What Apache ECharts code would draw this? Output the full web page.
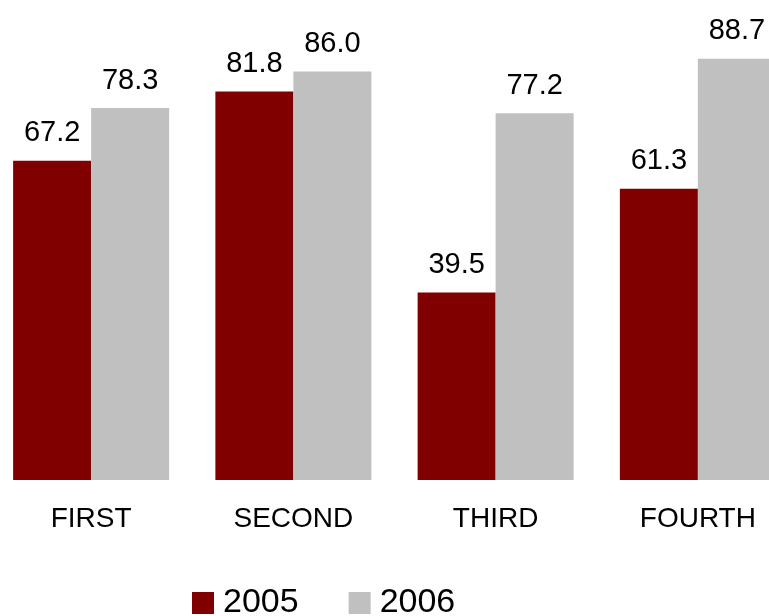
<!DOCTYPE html>
<html>
<head>
<meta charset="utf-8">
<script src="https://cdn.jsdelivr.net/npm/echarts@6/dist/echarts.min.js"></script>
<style>
html,body{margin:0;padding:0;background:#fff;overflow:hidden;width:769px;height:616px;}
#chart{width:809px;height:616px;margin-left:-10px;}
</style>
</head>
<body>
<div id="chart"></div>
<script>
const categories = ['FIRST', 'SECOND', 'THIRD', 'FOURTH'];
const seriesNames = ['2005', '2006'];
const values2005 = [67.2, 81.8, 39.5, 61.3];
const values2006 = [78.3, 86.0, 77.2, 88.7];

const chart = echarts.init(document.getElementById('chart'));
const font = '"Liberation Sans", Arial, sans-serif';
const labelCfg = {
  show: true, position: 'top', distance: 13,
  fontSize: 29, fontFamily: font, color: '#000',
  formatter: p => p.value.toFixed(1)
};
chart.setOption({
  animation: false,
  backgroundColor: '#fff',
  grid: { left: 0, right: 0, top: 5, bottom: 136, containLabel: false },
  legend: {
    data: seriesNames,
    left: 202, top: 586, padding: 0,
    itemWidth: 22, itemHeight: 22, itemGap: 50,
    icon: 'rect',
    textStyle: { fontSize: 34, fontFamily: font, color: '#000', padding: [0, 0, 0, 4] }
  },
  xAxis: {
    type: 'category', data: categories,
    axisLine: { show: false }, axisTick: { show: false },
    axisLabel: { margin: 25, fontSize: 28, fontFamily: font, color: '#000' }
  },
  yAxis: { type: 'value', min: 0, max: 100, show: false, splitLine: { show: false } },
  series: [
    { name: seriesNames[0], type: 'bar', data: values2005, barWidth: 78, barGap: '0%',
      itemStyle: { color: '#800000' }, label: labelCfg },
    { name: seriesNames[1], type: 'bar', data: values2006, barWidth: 78, barGap: '0%',
      itemStyle: { color: '#C0C0C0' }, label: labelCfg }
  ]
});
</script>
</body>
</html>
